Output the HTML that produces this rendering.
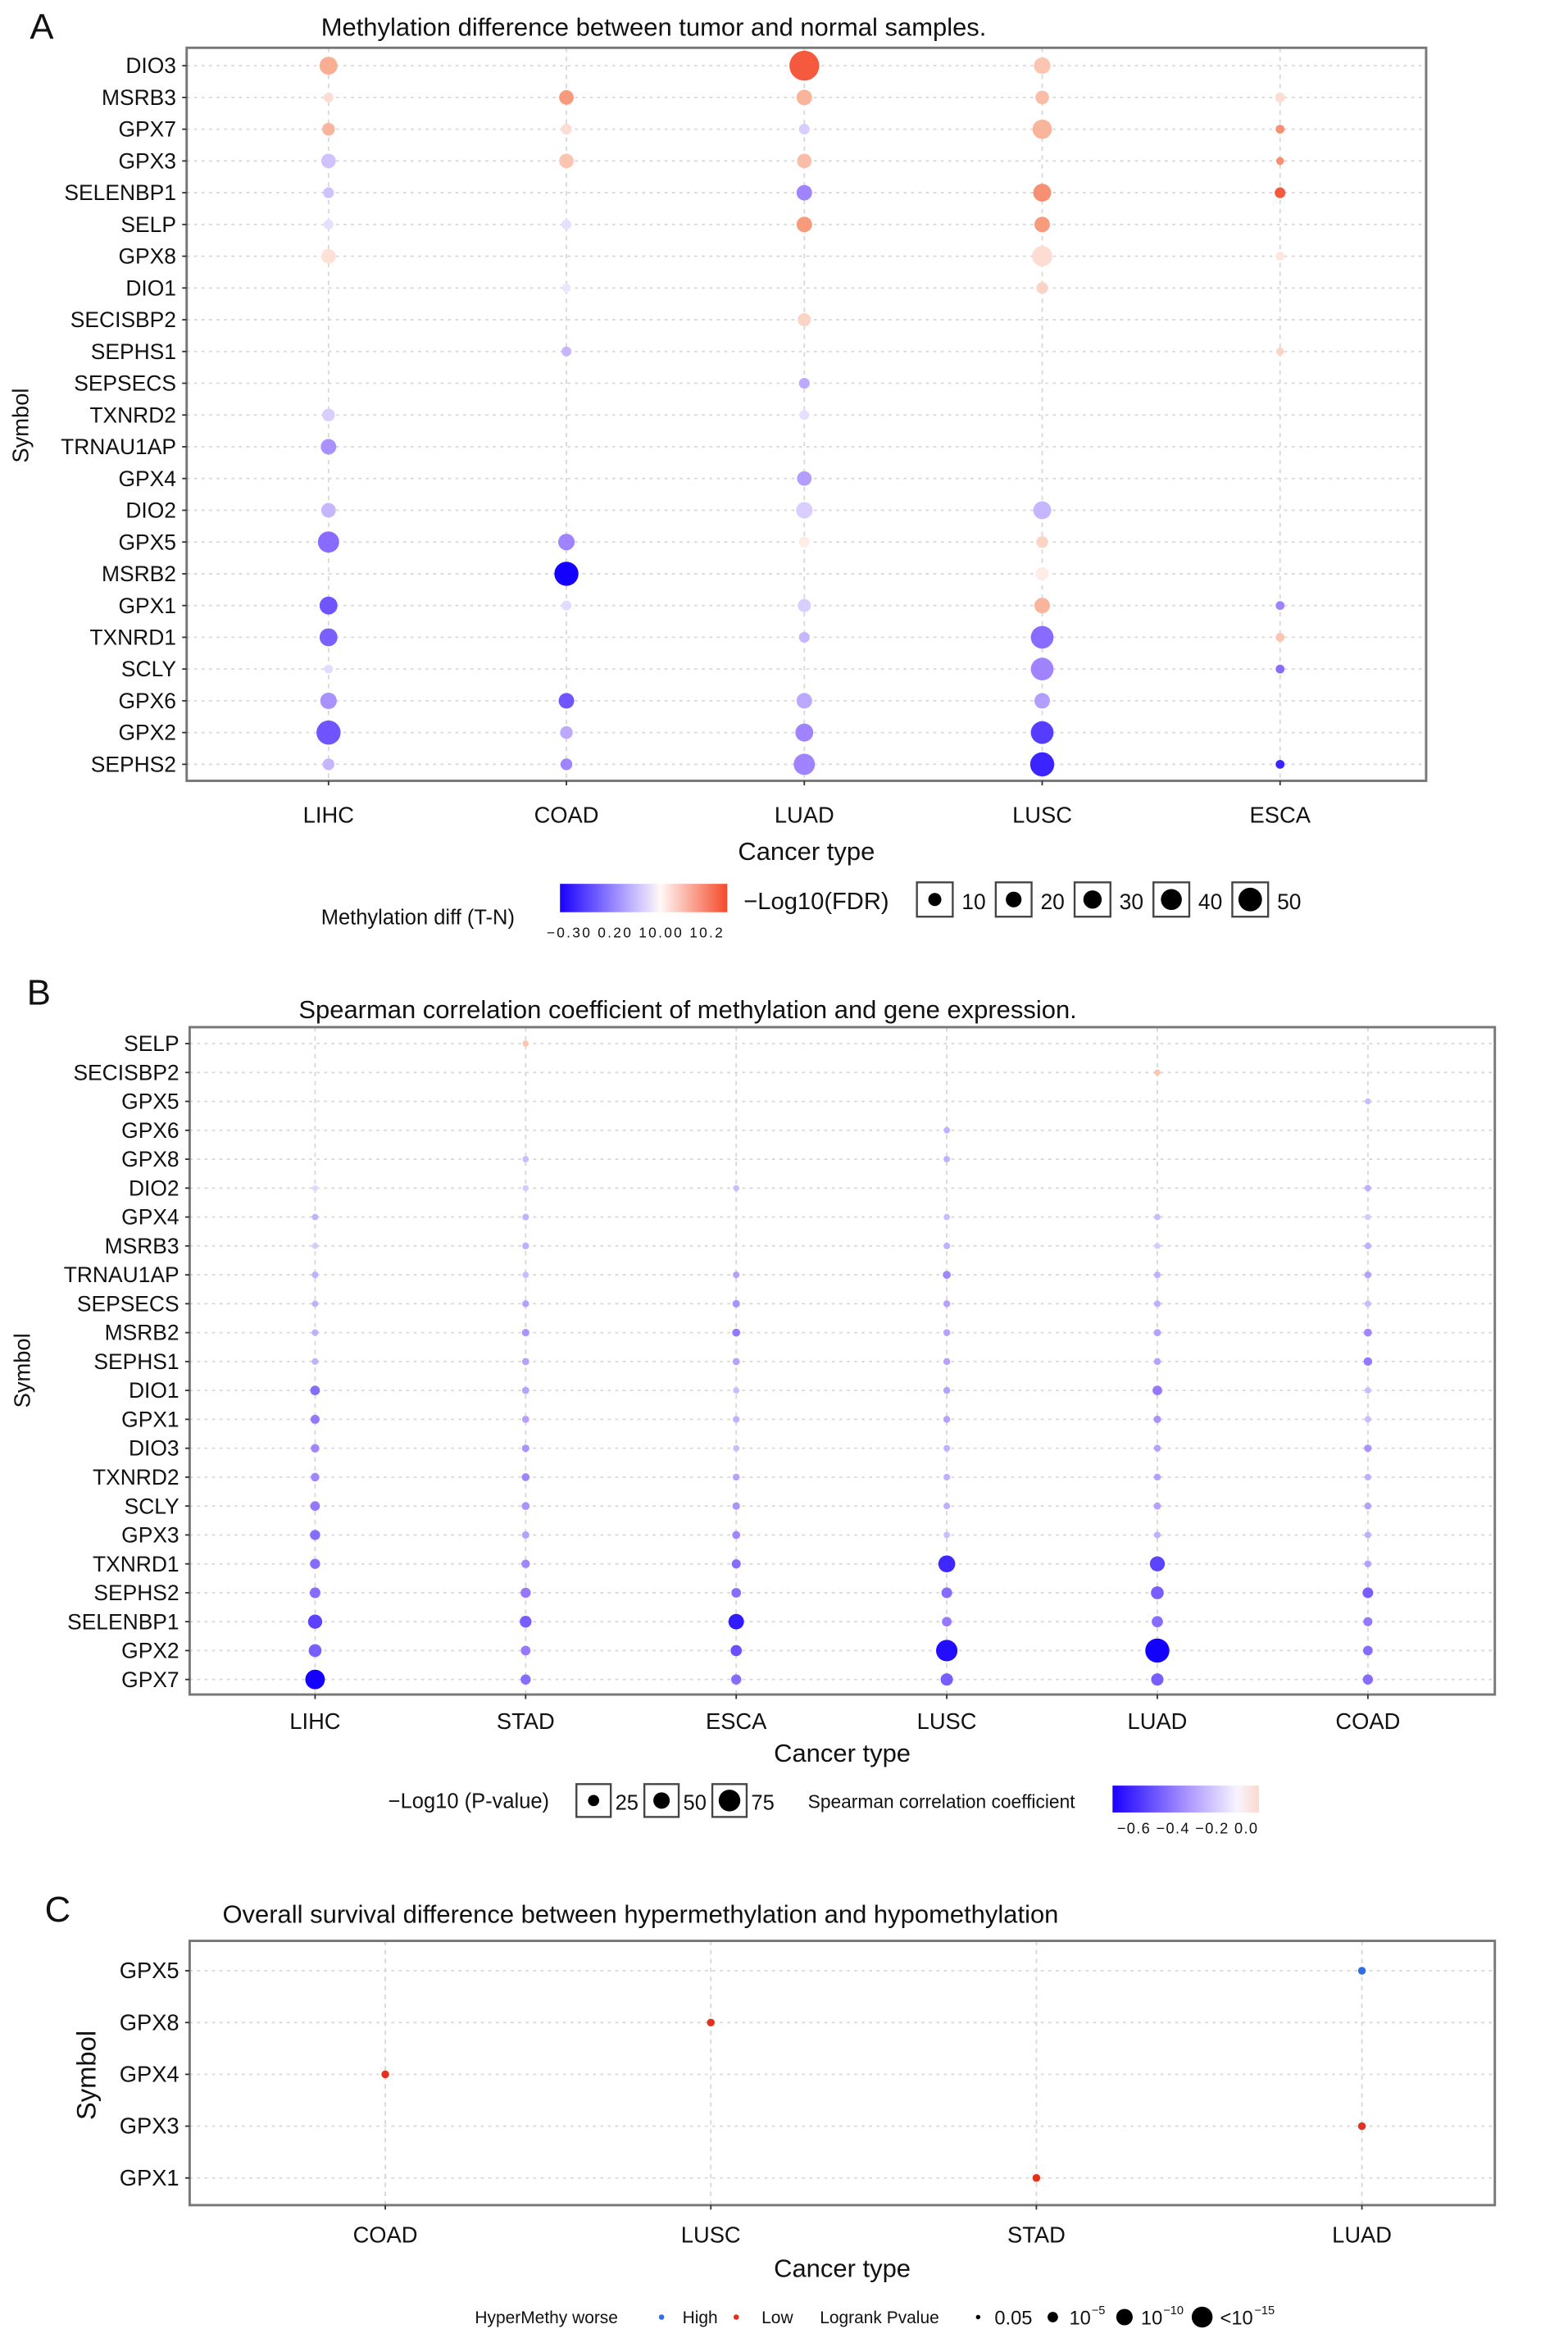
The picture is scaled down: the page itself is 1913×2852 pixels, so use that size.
<!DOCTYPE html>
<html><head><meta charset="utf-8"><style>
html,body{margin:0;padding:0;background:#fff}
svg{display:block}
text{font-family:"Liberation Sans",sans-serif;fill:#111}
</style></head><body>
<svg id="chart" width="1913" height="2852" viewBox="0 0 1050 1566" preserveAspectRatio="none" xmlns="http://www.w3.org/2000/svg">
<defs>
<linearGradient id="gA" x1="0" x2="1"><stop offset="0" stop-color="#1a00ff"/><stop offset="0.45" stop-color="#c8bcff"/><stop offset="0.6" stop-color="#fff8f6"/><stop offset="1" stop-color="#f44a2a"/></linearGradient>
<linearGradient id="gB" x1="0" x2="1"><stop offset="0" stop-color="#1a00ff"/><stop offset="0.5" stop-color="#a892ff"/><stop offset="0.85" stop-color="#f7f4ff"/><stop offset="1" stop-color="#fbd9cc"/></linearGradient>
</defs>
<g id="root"></g>
</svg>
<script>
// Panel A data
const aRows=["DIO3","MSRB3","GPX7","GPX3","SELENBP1","SELP","GPX8","DIO1","SECISBP2","SEPHS1","SEPSECS","TXNRD2","TRNAU1AP","GPX4","DIO2","GPX5","MSRB2","GPX1","TXNRD1","SCLY","GPX6","GPX2","SEPHS2"];
const aCols=["LIHC","COAD","LUAD","LUSC","ESCA"];
const aPoints=[
["DIO3","LIHC",0.45,25],["DIO3","LUAD",0.85,50],["DIO3","LUSC",0.3,22],
["MSRB3","LIHC",0.15,8],["MSRB3","COAD",0.55,18],["MSRB3","LUAD",0.4,20],["MSRB3","LUSC",0.35,16],["MSRB3","ESCA",0.15,8],
["GPX7","LIHC",0.4,14],["GPX7","COAD",0.15,10],["GPX7","LUAD",-0.15,10],["GPX7","LUSC",0.4,28],["GPX7","ESCA",0.6,6],
["GPX3","LIHC",-0.2,18],["GPX3","COAD",0.3,18],["GPX3","LUAD",0.35,18],["GPX3","ESCA",0.6,4],
["SELENBP1","LIHC",-0.2,10],["SELENBP1","LUAD",-0.45,20],["SELENBP1","LUSC",0.6,25],["SELENBP1","ESCA",0.85,10],
["SELP","LIHC",-0.08,8],["SELP","COAD",-0.08,8],["SELP","LUAD",0.55,20],["SELP","LUSC",0.55,20],
["GPX8","LIHC",0.12,18],["GPX8","LUSC",0.15,30],["GPX8","ESCA",0.08,6],
["DIO1","COAD",-0.05,6],["DIO1","LUSC",0.2,12],
["SECISBP2","LUAD",0.2,15],
["SEPHS1","COAD",-0.25,8],["SEPHS1","ESCA",0.2,4],
["SEPSECS","LUAD",-0.3,10],
["TXNRD2","LIHC",-0.15,14],["TXNRD2","LUAD",-0.08,8],
["TRNAU1AP","LIHC",-0.4,20],
["GPX4","LUAD",-0.35,18],
["DIO2","LIHC",-0.25,18],["DIO2","LUAD",-0.15,22],["DIO2","LUSC",-0.25,25],
["GPX5","LIHC",-0.55,32],["GPX5","COAD",-0.45,22],["GPX5","LUAD",0.05,10],["GPX5","LUSC",0.2,12],
["MSRB2","COAD",-1,38],["MSRB2","LUSC",0.05,15],
["GPX1","LIHC",-0.65,25],["GPX1","COAD",-0.1,8],["GPX1","LUAD",-0.15,15],["GPX1","LUSC",0.4,20],["GPX1","ESCA",-0.45,6],
["TXNRD1","LIHC",-0.6,25],["TXNRD1","LUAD",-0.25,10],["TXNRD1","LUSC",-0.55,35],["TXNRD1","ESCA",0.3,6],
["SCLY","LIHC",-0.1,6],["SCLY","LUSC",-0.45,35],["SCLY","ESCA",-0.55,6],
["GPX6","LIHC",-0.4,22],["GPX6","COAD",-0.65,20],["GPX6","LUAD",-0.3,20],["GPX6","LUSC",-0.35,20],
["GPX2","LIHC",-0.65,38],["GPX2","COAD",-0.3,14],["GPX2","LUAD",-0.45,25],["GPX2","LUSC",-0.75,35],
["SEPHS2","LIHC",-0.25,12],["SEPHS2","COAD",-0.45,12],["SEPHS2","LUAD",-0.45,32],["SEPHS2","LUSC",-0.85,38],["SEPHS2","ESCA",-0.85,6]
];
const aSizeTicks=[10,20,30,40,50];
const aColorTicks=["−0.30","0.20","10.00","10.2"];
// Panel B data
const bRows=["SELP","SECISBP2","GPX5","GPX6","GPX8","DIO2","GPX4","MSRB3","TRNAU1AP","SEPSECS","MSRB2","SEPHS1","DIO1","GPX1","DIO3","TXNRD2","SCLY","GPX3","TXNRD1","SEPHS2","SELENBP1","GPX2","GPX7"];
const bCols=["LIHC","STAD","ESCA","LUSC","LUAD","COAD"];
const bRho={
SELP:[null,0.05,null,null,null,null],SECISBP2:[null,null,null,null,0.05,null],GPX5:[null,null,null,null,null,-0.2],
GPX6:[null,null,null,-0.25,null,null],GPX8:[null,-0.2,null,-0.25,null,null],DIO2:[-0.1,-0.15,-0.2,null,null,-0.25],
GPX4:[-0.25,-0.25,null,-0.2,-0.2,-0.15],MSRB3:[-0.15,-0.25,null,-0.25,-0.15,-0.25],TRNAU1AP:[-0.25,-0.2,-0.3,-0.4,-0.25,-0.3],
SEPSECS:[-0.25,-0.3,-0.35,-0.3,-0.25,-0.2],MSRB2:[-0.25,-0.35,-0.45,-0.3,-0.3,-0.4],SEPHS1:[-0.25,-0.3,-0.3,-0.3,-0.3,-0.45],
DIO1:[-0.5,-0.3,-0.2,-0.3,-0.45,-0.2],GPX1:[-0.45,-0.3,-0.25,-0.3,-0.35,-0.2],DIO3:[-0.4,-0.35,-0.2,-0.25,-0.3,-0.35],
TXNRD2:[-0.4,-0.4,-0.3,-0.25,-0.3,-0.25],SCLY:[-0.45,-0.35,-0.35,-0.25,-0.3,-0.3],GPX3:[-0.5,-0.3,-0.4,-0.2,-0.25,-0.25],
TXNRD1:[-0.5,-0.4,-0.5,-0.75,-0.65,-0.3],SEPHS2:[-0.5,-0.45,-0.5,-0.5,-0.55,-0.55],SELENBP1:[-0.65,-0.55,-0.8,-0.45,-0.5,-0.45],
GPX2:[-0.55,-0.45,-0.6,-0.85,-0.9,-0.5],GPX7:[-0.9,-0.5,-0.5,-0.55,-0.55,-0.5]};
const bLogP={
SELP:[0,5,0,0,0,0],SECISBP2:[0,0,0,0,5,0],GPX5:[0,0,0,0,0,5],GPX6:[0,0,0,6,0,0],GPX8:[0,6,0,6,0,0],DIO2:[4,5,5,0,0,6],
GPX4:[6,7,0,6,6,5],MSRB3:[5,8,0,7,5,7],TRNAU1AP:[7,6,7,12,7,8],SEPSECS:[6,8,10,8,7,6],MSRB2:[7,10,12,8,9,12],SEPHS1:[7,9,9,8,8,14],
DIO1:[18,9,6,8,18,6],GPX1:[16,9,7,8,10,6],DIO3:[14,10,6,7,8,10],TXNRD2:[14,12,8,7,8,7],SCLY:[18,12,10,7,9,8],GPX3:[20,10,12,6,7,7],
TXNRD1:[20,14,16,45,38,8],SEPHS2:[22,20,18,22,30,22],SELENBP1:[35,26,40,18,24,16],GPX2:[30,18,24,62,72,18],GPX7:[55,20,20,28,28,20]};
const bSizeTicks=[25,50,75];
const bColorTicks=["−0.6","−0.4","−0.2","0.0"];
// Panel C data
const cRows=["GPX5","GPX8","GPX4","GPX3","GPX1"];
const cCols=["COAD","LUSC","STAD","LUAD"];
const cPoints=[["GPX5","LUAD","High"],["GPX8","LUSC","Low"],["GPX4","COAD","Low"],["GPX3","LUAD","Low"],["GPX1","STAD","Low"]];

const NS="http://www.w3.org/2000/svg";
const root=document.getElementById('root');
function el(tag,attrs,parent,txt){const e=document.createElementNS(NS,tag);for(const k in attrs)e.setAttribute(k,attrs[k]);if(txt!==undefined)e.textContent=txt;(parent||root).appendChild(e);return e;}
function mix(a,b,t){return a.map((v,i)=>Math.round(v+(b[i]-v)*t));}
function colA(d){const t=Math.min(1,Math.abs(d));let c;
 if(d<0){c=t<0.5?mix([246,243,255],[150,120,255],t/0.5):mix([150,120,255],[20,0,255],(t-0.5)/0.5);}
 else{c=t<0.5?mix([255,244,240],[248,165,135],t/0.5):mix([248,165,135],[243,58,30],(t-0.5)/0.5);}
 return `rgb(${c})`;}
function colB(r){if(r>0)return colA(r*6);return colA(r/0.9);}

function panel(o){
 const g=el('g',{});
 
 
 const t=el('text',{x:o.letterX,y:o.letterY,'font-size':24},g,o.letter);
 
 const ti=el('text',{x:o.titleX,y:o.titleY,'font-size':17},g,o.title);
 
 const x0=o.x0,x1=o.x1,y0=o.y0,y1=o.y1;
 const xs=c=>o.colX0+o.cols.indexOf(c)*o.colStep;
 const ys=r=>o.rowY0+o.rows.indexOf(r)*o.rowStep;
 const grid=el('g',{},g);
 o.rows.forEach(r=>el('line',{x1:x0,x2:x1,y1:ys(r),y2:ys(r),stroke:'#d8d8d8','stroke-width':1,'stroke-dasharray':'2,3'},grid));
 o.cols.forEach(c=>el('line',{x1:xs(c),x2:xs(c),y1:y0,y2:y1,stroke:'#d8d8d8','stroke-width':1,'stroke-dasharray':'3,3'},grid));
 const fr=el('rect',{x:x0,y:y0,width:x1-x0,height:y1-y0,fill:'none',stroke:'#777','stroke-width':1.6},g);
 
 o.rows.forEach(r=>{
  const lb=el('text',{x:x0-7,y:ys(r)+5,'font-size':o.rowFont,'text-anchor':'end'},g,r);
  
  el('line',{x1:x0-3,x2:x0,y1:ys(r),y2:ys(r),stroke:'#333'},g);
 });
 o.cols.forEach(c=>{
  const lb=el('text',{x:xs(c),y:o.xlabY,'font-size':15,'text-anchor':'middle'},g,c);
  
  el('line',{x1:xs(c),x2:xs(c),y1:y1,y2:y1+3,stroke:'#333'},g);
 });
 const xt=el('text',{x:(x0+x1)/2,y:o.xtitleY,'font-size':17,'text-anchor':'middle'},g,'Cancer type');
 
 const yt=el('text',{x:0,y:0,'font-size':o.ytFont,'text-anchor':'middle',transform:`translate(${o.ytX},${o.ytY}) rotate(-90)`},g,'Symbol');
 
 return {g,xs,ys};
}

// Panel A
const A=panel({name:'panel-a',letter:'A',letterX:20,letterY:26,title:'Methylation difference between tumor and normal samples.',titleX:215,titleY:24,
 x0:125,x1:955,y0:32,y1:523,rows:aRows,cols:aCols,colX0:220,colStep:159.3,rowY0:44,rowStep:21.27,rowFont:14.5,xlabY:551,xtitleY:576,ytFont:15,ytX:19,ytY:285});
const aDots=el('g',{},A.g);
aPoints.forEach(p=>{const c=el('circle',{cx:A.xs(p[1]),cy:A.ys(p[0]),r:2+p[3]*0.16,fill:colA(p[2])},aDots);
 });
// Legend A
const la=el('g',{});
el('text',{x:215,y:619,'font-size':14},la,'Methylation diff (T-N)');
el('rect',{x:375,y:592,width:112,height:19,fill:'url(#gA)'},la);
el('text',{x:366,y:628,'font-size':9.5,'textLength':118},la,aColorTicks.join(' '));
el('text',{x:498,y:609,'font-size':16},la,'−Log10(FDR)');
aSizeTicks.forEach((s,i)=>{const bx=614+i*52.8;
 const k=el('g',{},la);
 el('rect',{x:bx,y:591,width:24,height:23,fill:'#fff',stroke:'#444','stroke-width':1.3},k);
 el('circle',{cx:bx+12,cy:602.5,r:2+s*0.16*0.55+1.5,fill:'#000'},k);
 el('text',{x:bx+30,y:609,'font-size':14.5},k,String(s));});

// Panel B
const B=panel({name:'panel-b',letter:'B',letterX:18,letterY:673,title:'Spearman correlation coefficient of methylation and gene expression.',titleX:200,titleY:682,
 x0:127,x1:1001,y0:688,y1:1135,rows:bRows,cols:bCols,colX0:211,colStep:141,rowY0:699,rowStep:19.36,rowFont:14.5,xlabY:1158,xtitleY:1180,ytFont:15,ytX:20,ytY:918});
const bDots=el('g',{},B.g);
bRows.forEach(r=>bCols.forEach((c,i)=>{const v=bRho[r][i];if(v===null)return;
 const cc=el('circle',{cx:B.xs(c),cy:B.ys(r),r:1.6+bLogP[r][i]*0.09,fill:colB(v)},bDots);
 }));
const lb=el('g',{});
el('text',{x:260,y:1211,'font-size':14},lb,'−Log10 (P-value)');
bSizeTicks.forEach((s,i)=>{const bx=386+i*45.5;
 const k=el('g',{},lb);
 el('rect',{x:bx,y:1195,width:23,height:22,fill:'#fff',stroke:'#444','stroke-width':1.3},k);
 el('circle',{cx:bx+11.5,cy:1206,r:2+s*0.07,fill:'#000'},k);
 el('text',{x:bx+26,y:1212,'font-size':14},k,String(s));});
el('text',{x:541,y:1211,'font-size':12.5},lb,'Spearman correlation coefficient');
el('rect',{x:745,y:1196,width:98,height:18,fill:'url(#gB)'},lb);
el('text',{x:748,y:1228,'font-size':10,'textLength':94},lb,bColorTicks.join(' '));

// Panel C
const C=panel({name:'panel-c',letter:'C',letterX:30,letterY:1287,title:'Overall survival difference between hypermethylation and hypomethylation',titleX:149,titleY:1288,
 x0:127,x1:1001,y0:1300,y1:1477,rows:cRows,cols:cCols,colX0:258,colStep:218,rowY0:1320,rowStep:34.7,rowFont:15,xlabY:1502,xtitleY:1525,ytFont:18,ytX:64,ytY:1390});
const cDots=el('g',{},C.g);
cPoints.forEach(p=>{const c=el('circle',{cx:C.xs(p[1]),cy:C.ys(p[0]),r:2.6,fill:p[2]==='High'?'#2f6fe0':'#e3311b'},cDots);
 });
const lc=el('g',{});
el('text',{x:318,y:1556,'font-size':11.5},lc,'HyperMethy worse');
el('circle',{cx:443,cy:1552,r:1.8,fill:'#2f6fe0'},lc);el('text',{x:457,y:1556,'font-size':11.5},lc,'High');
el('circle',{cx:493,cy:1552,r:1.8,fill:'#e3311b'},lc);el('text',{x:510,y:1556,'font-size':11.5},lc,'Low');
el('text',{x:549,y:1556,'font-size':11.5},lc,'Logrank Pvalue');
el('circle',{cx:655,cy:1552,r:1.5,fill:'#000'},lc);el('text',{x:666,y:1557,'font-size':13},lc,'0.05');
el('circle',{cx:705,cy:1552,r:3.5,fill:'#000'},lc);el('text',{x:716,y:1557,'font-size':13},lc,'10');el('text',{x:731,y:1550,'font-size':8},lc,'−5');
el('circle',{cx:753,cy:1552,r:5.5,fill:'#000'},lc);el('text',{x:764,y:1557,'font-size':13},lc,'10');el('text',{x:779,y:1550,'font-size':8},lc,'−10');
el('circle',{cx:805,cy:1552,r:7,fill:'#000'},lc);el('text',{x:817,y:1557,'font-size':13},lc,'<10');el('text',{x:840,y:1550,'font-size':8},lc,'−15');
</script>
</body></html>
